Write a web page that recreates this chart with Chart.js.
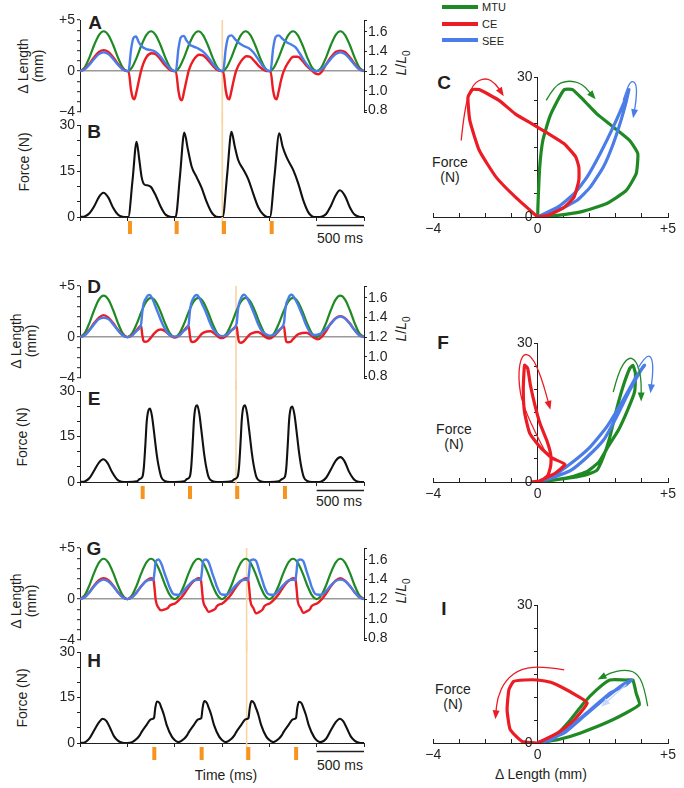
<!DOCTYPE html>
<html>
<head>
<meta charset="utf-8">
<script src="https://cdn.jsdelivr.net/npm/chart.js@4.4.0/dist/chart.umd.min.js"></script>
<style>
  body { margin: 0; background: #fff; }
  #fig { position: relative; width: 684px; height: 788px; overflow: hidden; font-family: "Liberation Sans", Arial, sans-serif; color: #231f20; }
  #fig canvas { position: absolute; }
  .t { position: absolute; white-space: nowrap; font-size: 14px; line-height: 15px; text-align: center; transform: translate(-50%, -50%); }
  .r { transform: translate(-50%, -50%) rotate(-90deg); }
  .p { position: absolute; font-weight: bold; font-size: 19px; line-height: 19px; transform: translate(-50%, -50%); }
  .key { position: absolute; left: 442px; width: 36px; height: 4px; }
  .kt { position: absolute; left: 482px; font-size: 11px; line-height: 11px; transform: translateY(-50%); }
</style>
</head>
<body>
<div id="fig">
  <div class="key" style="top:5px;background:#1f8a24"></div><div class="kt" style="top:7px">MTU</div>
  <div class="key" style="top:22px;background:#ec1c24"></div><div class="kt" style="top:24px">CE</div>
  <div class="key" style="top:38px;background:#4a7de8"></div><div class="kt" style="top:41px">SEE</div>

  <div class="p" style="left:95px;top:22px">A</div>
  <div class="p" style="left:94px;top:131px">B</div>
  <div class="p" style="left:444px;top:82px">C</div>
  <div class="p" style="left:94px;top:286px">D</div>
  <div class="p" style="left:94px;top:398px">E</div>
  <div class="p" style="left:443px;top:342px">F</div>
  <div class="p" style="left:94px;top:548px">G</div>
  <div class="p" style="left:94px;top:660px">H</div>
  <div class="p" style="left:444px;top:608px">I</div>

  <div class="t r" style="left:31px;top:66px">Δ Length<br>(mm)</div>
  <div class="t r" style="left:24px;top:341px">Δ Length<br>(mm)</div>
  <div class="t r" style="left:24px;top:601px">Δ Length<br>(mm)</div>
  <div class="t r" style="left:24px;top:162px">Force (N)</div>
  <div class="t r" style="left:22px;top:437px">Force (N)</div>
  <div class="t r" style="left:22px;top:698px">Force (N)</div>
  <div class="t r" style="left:404px;top:63px"><i>L</i>/<i>L</i><sub style="font-size:10px">0</sub></div>
  <div class="t r" style="left:404px;top:329px"><i>L</i>/<i>L</i><sub style="font-size:10px">0</sub></div>
  <div class="t r" style="left:404px;top:591px"><i>L</i>/<i>L</i><sub style="font-size:10px">0</sub></div>
  <div class="t" style="left:450px;top:170px">Force<br>(N)</div>
  <div class="t" style="left:454px;top:437px">Force<br>(N)</div>
  <div class="t" style="left:453px;top:697px">Force<br>(N)</div>
  <div class="t" style="left:340px;top:238px">500 ms</div>
  <div class="t" style="left:339px;top:501px">500 ms</div>
  <div class="t" style="left:340px;top:765px">500 ms</div>
  <div class="t" style="left:226px;top:775px">Time (ms)</div>
  <div class="t" style="left:541px;top:774px">Δ Length (mm)</div>
</div>
<script>
// time grid for the imposed MTU length (ms)
const tGrid = [0,50,100,150,200,250,300,350,400,450,500,550,600,650,700,750,800,850,900,950,
  1000,1050,1100,1150,1200,1250,1300,1350,1400,1450,1500,1550,1600,1650,1700,1750,1800,1850,1900,1950,
  2000,2050,2100,2150,2200,2250,2300,2350,2400,2450,2500,2550,2600,2650,2700,2750,2800,2850,2900,2950,3000];

// MTU length change (mm) on tGrid
const mtuA = [0,0.37,1.35,2.55,3.53,3.9,3.53,2.55,1.35,0.37, 0,0.37,1.35,2.55,3.53,3.9,3.53,2.55,1.35,0.37,
  0,0.37,1.35,2.55,3.53,3.9,3.53,2.55,1.35,0.37, 0,0.37,1.35,2.55,3.53,3.9,3.53,2.55,1.35,0.37,
  0,0.37,1.35,2.55,3.53,3.9,3.53,2.55,1.35,0.37, 0,0.37,1.35,2.55,3.53,3.9,3.53,2.55,1.35,0.37, 0];
const mtuD = [0,0.38,1.4,2.65,3.67,4.05,3.67,2.65,1.4,0.38, 0,0.36,1.32,2.51,3.47,3.83,3.47,2.51,1.32,0.36,
  0,0.36,1.32,2.51,3.47,3.83,3.47,2.51,1.32,0.36, 0,0.36,1.32,2.51,3.47,3.83,3.47,2.51,1.32,0.36,
  0,0.36,1.32,2.51,3.47,3.83,3.47,2.51,1.32,0.36, 0,0.38,1.4,2.65,3.67,4.05,3.67,2.65,1.4,0.38, 0];
const mtuG = [0,0.38,1.36,2.59,3.57,3.95,3.57,2.59,1.36,0.38, 0,0.38,1.36,2.59,3.57,3.95,3.57,2.59,1.36,0.38,
  0,0.38,1.36,2.59,3.57,3.95,3.57,2.59,1.36,0.38, 0,0.38,1.36,2.59,3.57,3.95,3.57,2.59,1.36,0.38,
  0,0.38,1.36,2.59,3.57,3.95,3.57,2.59,1.36,0.38, 0,0.38,1.36,2.59,3.57,3.95,3.57,2.59,1.36,0.38, 0];

// CE and SEE length change (mm), [time ms, value]
const ceA = [[0,0],[50,0.2],[100,0.72],[150,1.36],[200,1.87],[250,2.05],[300,1.87],[350,1.36],[400,0.72],[450,0.2],
  [500,0],[512,0],[540,-1.9],[560,-2.65],[575,-2.75],[595,-2.1],[625,-0.8],[650,0.2],[700,1.35],[757,1.75],[800,1.65],[850,1.15],[900,0.55],[950,0.12],
  [1000,0],[1012,0],[1040,-1.95],[1060,-2.75],[1077,-2.85],[1097,-2.1],[1125,-0.9],[1150,0.1],[1200,1.1],[1260,1.6],[1300,1.55],[1350,1.1],[1400,0.55],[1450,0.12],
  [1500,0],[1512,0],[1540,-1.9],[1560,-2.65],[1577,-2.75],[1597,-2.05],[1625,-0.85],[1650,0.05],[1700,0.95],[1760,1.45],[1800,1.38],[1850,0.9],[1900,0.4],[1950,0.08],
  [2000,0],[2012,0],[2040,-1.9],[2060,-2.65],[2077,-2.75],[2097,-2.05],[2125,-0.85],[2150,-0.05],[2200,0.85],[2255,1.4],[2300,1.4],[2350,1.0],[2400,0.45],[2450,0.05],[2490,-0.25],
  [2520,-0.3],[2550,-0.1],[2600,0.65],[2650,1.35],[2700,1.87],[2750,2.0],[2800,1.87],[2850,1.36],[2900,0.72],[2950,0.2],[3000,0]];
const seeA = [[0,0],[50,0.17],[100,0.63],[150,1.19],[200,1.66],[250,1.85],[300,1.66],[350,1.19],[400,0.63],[450,0.17],
  [500,0],[512,0],[540,2.15],[565,3.25],[592,3.38],[620,2.85],[650,2.45],[700,2.15],[750,2.05],[800,1.88],[850,1.42],[900,0.8],[950,0.25],
  [1000,0],[1012,0],[1040,2.2],[1065,3.3],[1097,3.45],[1125,3.0],[1160,2.6],[1200,2.4],[1250,2.2],[1300,1.9],[1350,1.4],[1400,0.78],[1450,0.22],
  [1500,0],[1512,0],[1540,2.2],[1567,3.35],[1600,3.5],[1640,3.1],[1680,2.75],[1730,2.45],[1780,2.25],[1830,1.85],[1880,1.2],[1930,0.5],[1970,0.12],
  [2000,0],[2012,0],[2040,2.2],[2067,3.35],[2100,3.5],[2140,3.15],[2180,2.85],[2230,2.6],[2280,2.3],[2330,1.6],[2380,0.85],[2430,0.3],[2470,0.05],
  [2500,0],[2550,0.17],[2600,0.63],[2650,1.2],[2700,1.66],[2750,1.85],[2800,1.66],[2850,1.2],[2900,0.63],[2950,0.17],[3000,0]];
const ceD = [[0,0],[50,0.2],[100,0.73],[150,1.38],[200,1.91],[250,2.15],[300,1.91],[350,1.38],[400,0.73],[450,0.2],
  [500,0],[550,0.19],[600,0.69],[645,1.12],[658,0.2],[670,-0.35],[685,-0.45],[715,-0.4],[740,-0.15],[790,0.42],[830,0.7],[860,0.75],[910,0.5],[960,0.1],
  [1000,-0.05],[1050,0.17],[1100,0.68],[1148,1.1],[1160,0.2],[1172,-0.38],[1187,-0.48],[1215,-0.42],[1240,-0.2],[1290,0.35],[1340,0.55],[1380,0.58],[1420,0.35],[1465,0.0],
  [1500,-0.1],[1550,0.15],[1600,0.65],[1655,1.05],[1667,0.15],[1680,-0.45],[1697,-0.55],[1725,-0.45],[1750,-0.2],[1800,0.3],[1850,0.48],[1880,0.5],[1920,0.3],[1960,0.0],
  [2003,-0.15],[2050,0.12],[2100,0.62],[2155,1.05],[2167,0.15],[2180,-0.45],[2197,-0.5],[2225,-0.45],[2250,-0.2],[2300,0.25],[2350,0.4],[2390,0.42],[2430,0.25],[2470,-0.05],
  [2513,-0.22],[2550,0.0],[2600,0.6],[2650,1.35],[2700,1.86],[2750,2.05],[2800,1.86],[2850,1.35],[2900,0.71],[2950,0.2],[3000,0]];
const seeD = [[0,0],[50,0.18],[100,0.67],[150,1.27],[200,1.76],[250,1.9],[300,1.76],[350,1.27],[400,0.67],[450,0.18],
  [500,0],[550,0.17],[600,0.63],[645,1.25],[658,2.45],[670,3.2],[685,3.6],[700,3.85],[715,4.05],[736,4.12],[760,3.85],[790,3.17],[830,2.24],[860,1.52],[910,0.6],[960,0.14],
  [1000,0.05],[1050,0.19],[1100,0.64],[1148,1.25],[1160,2.45],[1172,3.2],[1187,3.6],[1200,3.85],[1215,4.05],[1236,4.12],[1260,3.85],[1290,3.24],[1330,2.44],[1360,1.7],[1410,0.7],[1460,0.22],
  [1500,0.1],[1550,0.21],[1600,0.67],[1655,1.35],[1667,2.55],[1680,3.3],[1697,3.7],[1715,4.05],[1736,4.15],[1760,3.9],[1800,3.17],[1850,2.03],[1880,1.3],[1920,0.6],[1960,0.3],
  [2003,0.15],[2050,0.24],[2100,0.7],[2155,1.4],[2167,2.55],[2180,3.3],[2197,3.7],[2215,4.05],[2236,4.15],[2260,3.9],[2300,3.22],[2350,2.1],[2390,1.15],[2430,0.45],[2470,0.2],
  [2513,0.25],[2550,0.38],[2600,0.8],[2650,1.3],[2700,1.81],[2750,2.0],[2800,1.81],[2850,1.3],[2900,0.69],[2950,0.18],[3000,0]];
const ceG = [[0,0],[50,0.2],[100,0.7],[150,1.33],[200,1.84],[250,2.04],[300,1.84],[350,1.33],[400,0.7],[450,0.2],
  [500,0],[550,0.2],[600,0.7],[650,1.3],[700,1.8],[750,2.05],[775,2.0],[787,1.1],[800,-0.1],[830,-0.85],[860,-1.1],[895,-1.0],[930,-0.85],[945,-0.65],[980,-0.5],
  [1000,-0.45],[1050,-0.05],[1100,0.5],[1150,1.2],[1200,1.75],[1250,2.05],[1275,2.0],[1287,1.1],[1300,-0.15],[1330,-0.85],[1360,-1.25],[1395,-1.12],[1430,-0.95],[1445,-0.7],[1480,-0.5],
  [1500,-0.45],[1550,-0.05],[1600,0.5],[1650,1.2],[1700,1.75],[1750,2.05],[1775,2.0],[1787,1.1],[1800,-0.2],[1830,-0.85],[1860,-1.4],[1895,-1.25],[1930,-1.0],[1945,-0.72],[1980,-0.5],
  [2000,-0.45],[2050,-0.05],[2100,0.5],[2150,1.2],[2200,1.75],[2250,2.05],[2275,2.0],[2287,1.1],[2300,-0.2],[2330,-0.85],[2360,-1.35],[2395,-1.2],[2430,-0.98],[2445,-0.7],[2480,-0.5],
  [2500,-0.45],[2550,-0.05],[2600,0.55],[2650,1.25],[2700,1.8],[2750,2.04],[2800,1.8],[2850,1.3],[2900,0.68],[2950,0.2],[3000,0]];
const seeG = [[0,0],[50,0.18],[100,0.66],[150,1.26],[200,1.73],[250,1.91],[300,1.73],[350,1.26],[400,0.66],[450,0.18],
  [500,0],[550,0.18],[600,0.66],[650,1.29],[700,1.77],[750,1.9],[775,1.85],[787,2.64],[800,3.67],[830,3.88],[860,3.44],[895,2.48],[930,1.57],[945,1.19],[980,0.56],
  [1000,0.45],[1050,0.43],[1100,0.86],[1150,1.39],[1200,1.82],[1250,1.9],[1275,1.85],[1287,2.64],[1300,3.72],[1330,3.88],[1360,3.59],[1395,2.6],[1430,1.67],[1445,1.24],[1480,0.56],
  [1500,0.45],[1550,0.43],[1600,0.86],[1650,1.39],[1700,1.82],[1750,1.9],[1775,1.85],[1787,2.64],[1800,3.77],[1830,3.88],[1860,3.74],[1895,2.73],[1930,1.72],[1945,1.26],[1980,0.56],
  [2000,0.45],[2050,0.43],[2100,0.86],[2150,1.39],[2200,1.82],[2250,1.9],[2275,1.85],[2287,2.64],[2300,3.77],[2330,3.88],[2360,3.69],[2395,2.68],[2430,1.7],[2445,1.24],[2480,0.56],
  [2500,0.45],[2550,0.43],[2600,0.81],[2650,1.34],[2700,1.77],[2750,1.91],[2800,1.77],[2850,1.29],[2900,0.68],[2950,0.18],[3000,0]];

// muscle force (N), [time ms, value]
const forceB = [[0,0],[50,0.2],[100,1.2],[150,3.5],[200,6.5],[246,7.9],[300,6.3],[350,3.0],[400,0.8],[450,0.1],
  [500,0],[510,0],[555,12],[598,24.5],[625,19],[651,13],[680,10.6],[720,10.3],[750,9.8],[800,7.0],[850,3.5],[900,0.9],[950,0.1],
  [1000,0],[1010,0],[1055,13],[1102,27.5],[1140,22],[1180,16.4],[1232,13],[1285,9.5],[1338,4.9],[1390,1.5],[1440,0.1],
  [1500,0],[1507,0],[1555,14],[1600,27.8],[1635,23],[1672,18.5],[1725,15.5],[1778,12.3],[1830,7.6],[1883,3.2],[1936,0.8],[1980,0],
  [2000,0],[2006,0],[2055,13.5],[2105,27.3],[2140,23],[2182,19.5],[2253,15.3],[2306,10.9],[2358,5.5],[2411,1.6],[2460,0.1],
  [2500,0],[2550,0.1],[2600,1],[2650,3.6],[2700,7],[2745,8.7],[2800,6.8],[2850,3.2],[2900,0.8],[2950,0.1],[3000,0]];
const forceE = [[0,0],[50,0.2],[100,1.3],[150,3.8],[200,6.4],[245,7.5],[290,6.3],[340,3.2],[390,0.9],[440,0.1],
  [500,0],[600,0.2],[630,1.0],[660,1.8],[675,5],[690,12],[705,20],[725,23.8],[740,24.2],[760,21.8],[780,17],[795,13],[810,9.2],[830,5.3],[860,1.5],[900,0.3],[950,0],
  [1000,0],[1100,0.2],[1130,1.0],[1160,1.8],[1175,5],[1190,12.5],[1205,21],[1225,25],[1238,25.3],[1260,22.6],[1280,17.6],[1295,13.6],[1310,9.6],[1330,5.5],[1360,1.5],[1400,0.3],[1450,0],
  [1500,0],[1600,0.2],[1635,1.0],[1665,1.8],[1680,5],[1695,12.5],[1710,21],[1730,25],[1743,25.3],[1765,22.6],[1785,17.6],[1800,13.6],[1815,9.6],[1835,5.5],[1865,1.5],[1905,0.3],[1950,0],
  [2000,0],[2100,0.2],[2135,1.0],[2165,1.8],[2180,5],[2195,12.5],[2210,20.8],[2230,24.6],[2243,24.9],[2265,22.3],[2285,17.4],[2300,13.4],[2315,9.5],[2335,5.4],[2365,1.5],[2405,0.3],[2450,0],
  [2500,0],[2550,0.2],[2600,1.4],[2650,4.1],[2700,7.0],[2752,8.2],[2795,6.8],[2840,3.5],[2890,1.0],[2940,0.1],[3000,0]];
const forceH = [[0,0],[50,0.2],[100,1.5],[150,4.2],[200,6.8],[240,8.0],[280,7.2],[320,4.8],[360,2.2],[400,0.8],[450,0.1],
  [500,0],[550,0.3],[600,1.4],[634,2.7],[650,3.6],[704,6.0],[739,7.6],[770,8.0],[782,8.3],[795,11.5],[812,13.7],[840,13.2],[860,11.6],[885,9.4],[915,6.0],[970,2.1],[1000,1.0],
  [1040,0.3],[1100,1.4],[1134,2.7],[1150,3.6],[1204,6.0],[1239,7.6],[1270,8.0],[1282,8.3],[1295,11.5],[1312,13.8],[1340,13.2],[1360,11.6],[1385,9.4],[1415,6.0],[1470,2.1],[1500,1.0],
  [1540,0.3],[1600,1.4],[1634,2.7],[1650,3.6],[1704,6.0],[1739,7.6],[1770,8.0],[1780,8.3],[1793,11.5],[1810,13.8],[1838,13.2],[1858,11.6],[1883,9.4],[1913,6.0],[1968,2.1],[2000,1.0],
  [2040,0.3],[2100,1.4],[2134,2.7],[2150,3.6],[2204,6.0],[2239,7.6],[2270,8.0],[2282,8.3],[2295,11.5],[2312,13.6],[2340,13.1],[2360,11.6],[2385,9.4],[2415,6.0],[2470,2.1],[2500,0.9],
  [2540,0.3],[2600,1.4],[2650,4.2],[2700,6.8],[2745,8.0],[2780,7.2],[2820,4.8],[2860,2.2],[2900,0.8],[2950,0.1],[3000,0]];

// stimulus times and marker line (ms)
const stimA = [528, 1021, 1521, 2025], markA = 1503;
const stimD = [662, 1162, 1661, 2165], markD = 1648;
const stimG = [785, 1285, 1778, 2283], markG = 1760;

// work loops: [delta length mm, force N]
const loopC_ce = [[0,0],[-0.86,4.3],[-1.6,8.6],[-2.24,14.3],[-2.6,20.7],[-2.67,25.7],[-2.5,27.3],[-2.24,27.3],[-1.48,25],[-0.86,22.1],[-0.23,20],[0.4,17.9],[1.02,15.7],[1.46,12.9],[1.58,10.7],[1.58,7.9],[1.4,4.3],[1.02,2.1],[0.4,0.36],[0,0]];
const loopC_mtu = [[0,0],[0.02,3.6],[0.08,10.7],[0.2,16.4],[0.46,21.4],[0.77,25],[1.02,27.3],[1.34,27.3],[1.77,25],[2.27,22.1],[2.9,19.3],[3.53,16.4],[3.84,13.6],[3.78,9.3],[3.4,5.7],[2.65,2.9],[1.65,1.1],[0.77,0.36],[0,0]];
const loopC_see = [[0,0],[0.77,2.1],[1.4,5],[1.9,8.6],[2.4,13.6],[2.9,19.3],[3.4,25.7],[3.5,27.3],[3.27,22.1],[2.9,15.7],[2.52,10.7],[2.02,6.4],[1.52,3.6],[0.77,1.4],[0,0]];
const loopF_ce = [[0,0],[0.3,0.8],[0.7,2.0],[1.05,3.8],[0.55,5.2],[0.1,7.5],[-0.3,10.5],[-0.5,15],[-0.55,20],[-0.5,25.2],[-0.38,24.5],[-0.28,21],[-0.1,16.5],[0.1,12.5],[0.35,9],[0.5,6],[0.5,3.5],[0.4,1.5],[0.15,0.3],[-0.2,0.05],[0,0]];
const loopF_mtu = [[0,0],[1.02,0.7],[1.77,1.4],[2.27,2.5],[2.52,5.4],[2.77,9.7],[3.02,15.5],[3.27,20.5],[3.53,24.5],[3.65,25.2],[3.75,23.5],[3.72,19.5],[3.45,15.5],[3.1,11.2],[2.7,7.6],[2.35,4.3],[1.9,2.3],[1.3,1.1],[0.6,0.4],[0,0]];
const loopF_see = [[0,0],[0.65,1.1],[1.27,2.5],[1.9,5.4],[2.52,9],[3.02,14],[3.53,19.8],[4.03,24.8],[4.1,25.2],[3.78,22.7],[3.27,17.6],[2.65,11.9],[2.02,7.6],[1.27,4],[0.52,1.1],[0,0]];
const loopI_ce = [[0,0],[0.77,2.2],[1.4,5],[1.9,8.7],[1.5,10.3],[1.0,11.9],[0.5,13.2],[0,13.7],[-0.5,13.7],[-0.92,13.4],[-1.1,11.6],[-1.17,7.2],[-1.05,2.9],[-0.6,0.36],[0,0]];
const loopI_mtu = [[0,0],[0.77,0.7],[1.65,2.2],[2.9,5.1],[3.9,8.3],[3.78,10.8],[3.65,13.7],[3.4,13.7],[2.77,13.7],[2.27,11.6],[1.77,8.7],[1.27,5.1],[0.65,1.4],[0,0]];
const loopI_see = [[0,0],[1.02,2.2],[1.77,5.8],[2.52,9.4],[3.27,12.7],[3.6,13.7],[3.4,12.7],[2.77,10.8],[2.02,7.2],[1.27,3.6],[0.52,0.7],[0,0]];

// direction arrows on the loops, [delta length mm, force N]
const arrC = [
  { c: 'red', p: [[-2.93,16.4],[-2.8,23.6],[-2.49,28.6],[-1.99,29.9],[-1.61,28.6],[-1.36,26.4]] },
  { c: 'green', p: [[0.33,25],[0.65,28.2],[1.15,29.3],[1.71,28.6],[2.15,25.7]] },
  { c: 'blue', p: [[3.28,25],[3.46,28.2],[3.65,29.3],[3.8,28.2],[3.78,25],[3.68,21.8]] }
];
const arrF = [
  { c: 'red', p: [[0.27,6.8],[-0.55,15.5],[-0.76,22.7],[-0.61,27.7],[-0.23,27.3],[0.14,22.7],[0.46,16.2]] },
  { c: 'green', p: [[2.9,19.4],[3.09,23.7],[3.46,27],[3.78,26.3],[3.97,22.7],[3.97,18]] },
  { c: 'blue', p: [[3.84,24.5],[4.15,27.3],[4.38,27],[4.43,24.1],[4.34,19.8]] }
];
const arrI = [
  { c: 'red', p: [[1.02,15.9],[0.27,16.6],[-0.61,16.3],[-1.23,13.7],[-1.55,9.8],[-1.61,5.8]] },
  { c: 'green', p: [[4.22,8],[4.09,12.3],[3.78,15.5],[3.28,15.9],[2.78,15.2],[2.4,14.1]] },
  { c: 'pale', p: [[3.4,12.7],[3.03,10.8],[2.52,8.3]] }
];
const loopForceLabels = [0, 30];

const FONT = '"Liberation Sans", Arial, sans-serif';
const INK = '#231f20';
const COL = { green: '#1f8a24', red: '#ec1c24', blue: '#4a7de8', pale: '#c9d8fa' };
const ORANGE = '#f7941d';
const MARKLINE = '#f8d6a2';
Chart.defaults.font.family = FONT;
Chart.defaults.font.size = 14;
Chart.defaults.color = INK;

const fig = document.getElementById('fig');

function makeCanvas(left, top, w, h) {
  const c = document.createElement('canvas');
  c.width = w; c.height = h;
  c.style.left = left + 'px'; c.style.top = top + 'px';
  c.style.width = w + 'px'; c.style.height = h + 'px';
  fig.appendChild(c);
  return c;
}

const asPoints = arr => arr.map(p => ({ x: p[0], y: p[1] }));
const onGrid = vals => tGrid.map((t, i) => ({ x: t, y: vals[i] }));

function trace(data, color, width) {
  return { data: data, borderColor: color, borderWidth: width, pointRadius: 0, fill: false,
    cubicInterpolationMode: 'monotone', borderJoinStyle: 'round' };
}

// orange marker line, stimulus ticks and 500 ms scale bar
const marks = {
  id: 'marks',
  beforeDatasetsDraw(chart, args, o) {
    if (o.mark == null) return;
    const { ctx, chartArea: a } = chart;
    const px = chart.scales.x.getPixelForValue(o.mark);
    ctx.save();
    ctx.strokeStyle = MARKLINE;
    ctx.lineWidth = 1.6;
    ctx.beginPath();
    ctx.moveTo(px, o.force ? 0 : a.top);
    ctx.lineTo(px, o.force ? a.bottom + 17 : chart.height);
    ctx.stroke();
    ctx.restore();
  },
  afterDatasetsDraw(chart, args, o) {
    if (!o.force) return;
    const { ctx, chartArea: a } = chart;
    const x = chart.scales.x;
    ctx.save();
    ctx.fillStyle = ORANGE;
    o.stim.forEach(t => {
      ctx.fillRect(x.getPixelForValue(t) - 2, a.bottom + 4, 4, 13);
    });
    ctx.strokeStyle = INK;
    ctx.lineWidth = 1.3;
    ctx.beginPath();
    ctx.moveTo(x.getPixelForValue(2500), a.bottom + 8.5);
    ctx.lineTo(x.getPixelForValue(3000), a.bottom + 8.5);
    ctx.stroke();
    ctx.restore();
  }
};

const axisLine = { color: INK, width: 1 };

function lengthChart(top, bottom, mtu, ce, see, mark) {
  const padT = 12, padB = 12;
  const cv = makeCanvas(0, top - padT, 400, bottom - top + padT + padB);
  return new Chart(cv, {
    type: 'line',
    data: { datasets: [trace(asPoints(see), COL.blue, 2.4), trace(asPoints(ce), COL.red, 2.4), trace(onGrid(mtu), COL.green, 2.2)] },
    options: {
      responsive: false, animation: false, devicePixelRatio: 1,
      layout: { padding: { top: padT, bottom: padB, left: 0, right: 0 } },
      plugins: { legend: { display: false }, tooltip: { enabled: false }, marks: { mark: mark, force: false } },
      scales: {
        x: { type: 'linear', min: 0, max: 3000, display: false },
        y: {
          position: 'left', min: -4, max: 5,
          ticks: { stepSize: 1, autoSkip: false, padding: 2,
            callback: v => v === 5 ? '+5' : v === 0 ? '0' : v === -4 ? '\u22124' : '' },
          grid: { drawOnChartArea: true, drawTicks: true, tickLength: 3, tickColor: INK, tickWidth: 1, lineWidth: 1.4,
            color: c => (c.tick && c.tick.value === 0) ? '#9a9a9a' : 'rgba(0,0,0,0)' },
          border: axisLine,
          afterFit: s => { s.width = 80; }
        },
        yR: {
          position: 'right', min: 0.782, max: 1.7225,
          afterBuildTicks: s => { s.ticks = [0.782, 0.8, 1.0, 1.2, 1.4, 1.6, 1.7225].map(v => ({ value: v })); },
          ticks: { autoSkip: false, padding: 1, callback: v => (v > 0.79 && v < 1.61) ? v.toFixed(1) : '' },
          grid: { drawOnChartArea: false, tickLength: 3, color: INK },
          border: axisLine,
          afterFit: s => { s.width = 36; }
        }
      }
    },
    plugins: [marks]
  });
}

function forceChart(top, bottom, force, stim, mark) {
  const padT = 12, axH = 26;
  const cv = makeCanvas(0, top - padT, 400, bottom - top + padT + axH);
  return new Chart(cv, {
    type: 'line',
    data: { datasets: [trace(asPoints(force), '#111', 2.1)] },
    options: {
      responsive: false, animation: false, devicePixelRatio: 1,
      layout: { padding: { top: padT, bottom: 0, left: 0, right: 36 } },
      plugins: { legend: { display: false }, tooltip: { enabled: false }, marks: { mark: mark, force: true, stim: stim } },
      scales: {
        x: {
          type: 'linear', min: 0, max: 3000,
          ticks: { stepSize: 500, display: false },
          grid: { drawOnChartArea: false, tickLength: 4, color: INK },
          border: axisLine,
          afterFit: s => { s.height = axH; }
        },
        y: {
          position: 'left', min: 0, max: 30,
          ticks: { stepSize: 5, autoSkip: false, padding: 2,
            callback: v => (v === 0 || v === 15 || v === 30) ? String(v) : '' },
          grid: { drawOnChartArea: false, tickLength: 3, color: INK },
          border: axisLine,
          afterFit: s => { s.width = 80; }
        }
      }
    },
    plugins: [marks]
  });
}

// thin curved direction arrows in data units, plus the force labels left of the centred axis
const arrows = {
  id: 'arrows',
  afterDraw(chart, args, o) {
    const { ctx } = chart;
    const { x, y } = chart.scales;
    ctx.save();
    ctx.fillStyle = INK;
    ctx.font = '14px ' + FONT;
    ctx.textAlign = 'right';
    ctx.textBaseline = 'middle';
    loopForceLabels.forEach(v => ctx.fillText(String(v), x.getPixelForValue(0) - 5, y.getPixelForValue(v) + 0.5));
    ctx.restore();
  },
  afterDatasetsDraw(chart, args, o) {
    const { ctx } = chart;
    const { x, y } = chart.scales;
    o.list.forEach(a => {
      const p = a.p.map(q => [x.getPixelForValue(q[0]), y.getPixelForValue(q[1])]);
      ctx.save();
      ctx.strokeStyle = COL[a.c];
      ctx.fillStyle = COL[a.c];
      ctx.lineWidth = 1.3;
      ctx.beginPath();
      ctx.moveTo(p[0][0], p[0][1]);
      for (let i = 1; i < p.length - 1; i++) {
        ctx.quadraticCurveTo(p[i][0], p[i][1], (p[i][0] + p[i + 1][0]) / 2, (p[i][1] + p[i + 1][1]) / 2);
      }
      const e = p[p.length - 1], s = p[p.length - 2];
      ctx.lineTo(e[0], e[1]);
      ctx.stroke();
      const ang = Math.atan2(e[1] - s[1], e[0] - s[0]);
      ctx.beginPath();
      ctx.moveTo(e[0] + Math.cos(ang) * 3, e[1] + Math.sin(ang) * 3);
      ctx.lineTo(e[0] - Math.cos(ang) * 6 - Math.sin(ang) * 3.5, e[1] - Math.sin(ang) * 6 + Math.cos(ang) * 3.5);
      ctx.lineTo(e[0] - Math.cos(ang) * 6 + Math.sin(ang) * 3.5, e[1] - Math.sin(ang) * 6 - Math.cos(ang) * 3.5);
      ctx.closePath();
      ctx.fill();
      ctx.restore();
    });
  }
};

function loopTrace(data, color) {
  return { data: asPoints(data), borderColor: color, borderWidth: 3.2, pointRadius: 0, fill: false, tension: 0.15,
    borderJoinStyle: 'round' };
}

function loopChart(top, bottom, ce, mtu, see, arr) {
  const padT = 16, axH = 26;
  const cv = makeCanvas(400, top - padT, 284, bottom - top + padT + axH);
  return new Chart(cv, {
    type: 'line',
    data: { datasets: [loopTrace(ce, COL.red), loopTrace(see, COL.blue), loopTrace(mtu, COL.green)] },
    options: {
      responsive: false, animation: false, devicePixelRatio: 1,
      layout: { padding: { top: padT, bottom: 0, left: 33.3, right: 11.3 } },
      plugins: { legend: { display: false }, tooltip: { enabled: false }, arrows: { list: arr } },
      scales: {
        x: {
          type: 'linear', min: -4, max: 5,
          ticks: { stepSize: 1, autoSkip: false, maxRotation: 0, padding: 8,
            callback: v => v === -4 ? '\u22124' : v === 0 ? '0' : v === 5 ? '+5' : '' },
          grid: { drawOnChartArea: false, tickLength: -4, color: INK },
          border: axisLine,
          afterFit: s => { s.height = axH; }
        },
        y: {
          type: 'linear', position: { x: 0 }, min: 0, max: 30,
          ticks: { stepSize: 5, autoSkip: false, display: false },
          grid: { drawOnChartArea: false, tickLength: 3, color: INK },
          border: axisLine
        }
      }
    },
    plugins: [arrows]
  });
}

lengthChart(20, 112, mtuA, ceA, seeA, markA);
lengthChart(286, 378, mtuD, ceD, seeD, markD);
lengthChart(548, 640, mtuG, ceG, seeG, markG);
forceChart(125, 217, forceB, stimA, markA);
forceChart(391, 482, forceE, stimD, markD);
forceChart(652, 743, forceH, stimG, markG);
loopChart(77, 217, loopC_ce, loopC_mtu, loopC_see, arrC);
loopChart(343, 482, loopF_ce, loopF_mtu, loopF_see, arrF);
loopChart(605, 743, loopI_ce, loopI_mtu, loopI_see, arrI);
</script>
</body>
</html>
